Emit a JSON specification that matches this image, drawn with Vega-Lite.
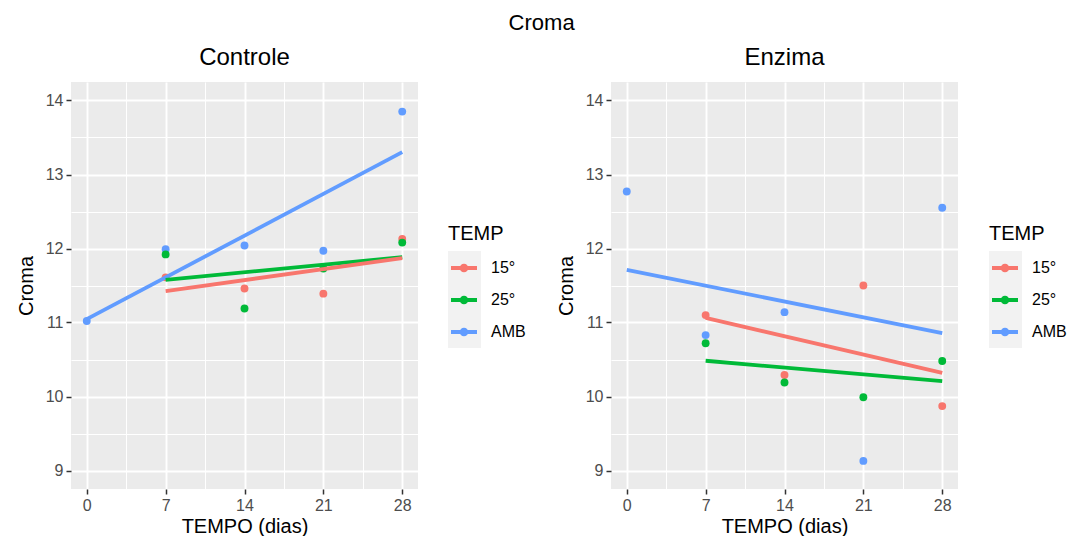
{
  "$schema": "https://vega.github.io/schema/vega-lite/v6.json",
  "background": "white",
  "padding": {"left": 16, "top": 12, "right": 0, "bottom": 0},
  "title": {"text": "Croma", "fontSize": 22, "font": "Liberation Sans", "fontWeight": "normal", "color": "black", "anchor": "middle", "offset": 11},
  "datasets": {
    "d": [
      {"panel": "Controle", "TEMPO": 0, "TEMP": "AMB", "CROMA": 11.02},
      {"panel": "Controle", "TEMPO": 7, "TEMP": "AMB", "CROMA": 11.99},
      {"panel": "Controle", "TEMPO": 7, "TEMP": "25°", "CROMA": 11.92},
      {"panel": "Controle", "TEMPO": 7, "TEMP": "15°", "CROMA": 11.61},
      {"panel": "Controle", "TEMPO": 14, "TEMP": "AMB", "CROMA": 12.04},
      {"panel": "Controle", "TEMPO": 14, "TEMP": "15°", "CROMA": 11.46},
      {"panel": "Controle", "TEMPO": 14, "TEMP": "25°", "CROMA": 11.19},
      {"panel": "Controle", "TEMPO": 21, "TEMP": "AMB", "CROMA": 11.97},
      {"panel": "Controle", "TEMPO": 21, "TEMP": "15°", "CROMA": 11.39},
      {"panel": "Controle", "TEMPO": 21, "TEMP": "25°", "CROMA": 11.73},
      {"panel": "Controle", "TEMPO": 28, "TEMP": "AMB", "CROMA": 13.85},
      {"panel": "Controle", "TEMPO": 28, "TEMP": "15°", "CROMA": 12.13},
      {"panel": "Controle", "TEMPO": 28, "TEMP": "25°", "CROMA": 12.08},
      {"panel": "Enzima", "TEMPO": 0, "TEMP": "AMB", "CROMA": 12.77},
      {"panel": "Enzima", "TEMPO": 7, "TEMP": "AMB", "CROMA": 10.83},
      {"panel": "Enzima", "TEMPO": 7, "TEMP": "15°", "CROMA": 11.10},
      {"panel": "Enzima", "TEMPO": 7, "TEMP": "25°", "CROMA": 10.72},
      {"panel": "Enzima", "TEMPO": 14, "TEMP": "AMB", "CROMA": 11.14},
      {"panel": "Enzima", "TEMPO": 14, "TEMP": "15°", "CROMA": 10.29},
      {"panel": "Enzima", "TEMPO": 14, "TEMP": "25°", "CROMA": 10.19},
      {"panel": "Enzima", "TEMPO": 21, "TEMP": "15°", "CROMA": 11.50},
      {"panel": "Enzima", "TEMPO": 21, "TEMP": "25°", "CROMA": 9.99},
      {"panel": "Enzima", "TEMPO": 21, "TEMP": "AMB", "CROMA": 9.13},
      {"panel": "Enzima", "TEMPO": 28, "TEMP": "AMB", "CROMA": 12.55},
      {"panel": "Enzima", "TEMPO": 28, "TEMP": "25°", "CROMA": 10.48},
      {"panel": "Enzima", "TEMPO": 28, "TEMP": "15°", "CROMA": 9.87}
    ]
  },
  "data": {"name": "d"},
  "config": {
    "font": "Liberation Sans",
    "view": {"fill": "#EBEBEB", "stroke": null},
    "title": {"font": "Liberation Sans", "fontWeight": "normal", "color": "black"},
    "axis": {"domain": false, "tickColor": "#333333", "tickWidth": 1.5, "tickSize": 5, "labelFont": "Liberation Sans", "labelFontSize": 16, "labelColor": "#4D4D4D", "titleFont": "Liberation Sans", "titleFontSize": 20, "titleFontWeight": "normal", "titleColor": "black", "gridColor": "white", "gridOpacity": 1},
    "legend": {"titleFont": "Liberation Sans", "labelFont": "Liberation Sans"}
  },
  "spacing": 30,
  "resolve": {"scale": {"color": "independent", "fill": "independent"}, "legend": {"color": "independent", "fill": "independent"}},
  "hconcat": [
    {
      "title": {"text": "Controle", "fontSize": 24, "baseline": "alphabetic", "offset": -7, "anchor": "middle"},
      "width": 347, "height": 407,
      "transform": [{"filter": "datum.panel == 'Controle'"}],
      "resolve": {"axis": {"x": "independent", "y": "independent"}},
      "layer": [
        {
          "mark": {"type": "point", "filled": true, "size": 62, "opacity": 1},
          "encoding": {
            "x": {"field": "TEMPO", "type": "quantitative", "scale": {"domain": [-1.4, 29.4], "nice": false, "zero": false},
                  "axis": {"values": [0, 7, 14, 21, 28], "title": "TEMPO (dias)", "grid": true, "gridWidth": 1.9, "labelPadding": 3, "titlePadding": 3}},
            "y": {"field": "CROMA", "type": "quantitative", "scale": {"domain": [8.75, 14.25], "nice": false, "zero": false},
                  "axis": {"values": [9, 10, 11, 12, 13, 14], "title": "Croma", "grid": true, "gridWidth": 1.9, "labelPadding": 3, "titlePadding": 9}},
            "color": {"field": "TEMP", "type": "nominal",
                      "scale": {"domain": ["15°", "25°", "AMB"], "range": ["#F8766D", "#00BA38", "#619CFF"]},
                      "legend": {"orient": "none", "legendX": 377, "legendY": 142, "zindex": 2, "title": "TEMP", "titleFontSize": 20, "titleFontWeight": "normal", "titleColor": "black", "titlePadding": 8, "labelFontSize": 16, "labelColor": "black", "labelOffset": 11, "rowPadding": 8, "symbolSize": 1024, "symbolStrokeWidth": 0, "symbolOpacity": 1,
                                 "symbolType": "M-0.8125,-0.125H0.8125V0.125H-0.8125Z M-0.27,0A0.27,0.27 0 1,1 0.27,0A0.27,0.27 0 1,1 -0.27,0Z"}}
          }
        },
        {
          "transform": [{"regression": "CROMA", "on": "TEMPO", "groupby": ["TEMP"]}],
          "mark": {"type": "line", "strokeWidth": 3.8},
          "encoding": {
            "x": {"field": "TEMPO", "type": "quantitative",
                  "axis": {"orient": "top", "values": [3.5, 10.5, 17.5, 24.5], "grid": true, "gridWidth": 1, "labels": false, "ticks": false, "title": null, "minExtent": 0, "maxExtent": 0, "offset": 0}},
            "y": {"field": "CROMA", "type": "quantitative",
                  "axis": {"orient": "right", "values": [9.5, 10.5, 11.5, 12.5, 13.5], "grid": true, "gridWidth": 1, "labels": false, "ticks": false, "title": null, "minExtent": 0, "maxExtent": 0, "offset": 0}},
            "color": {"field": "TEMP", "type": "nominal", "legend": null}
          }
        },
        {
          "mark": {"type": "point", "opacity": 0},
          "encoding": {
            "x": {"field": "TEMPO", "type": "quantitative", "axis": null},
            "y": {"field": "CROMA", "type": "quantitative", "axis": null},
            "fill": {"field": "CROMA", "type": "quantitative", "scale": {"range": ["#F2F2F2", "#F2F2F2"]},
                     "legend": {"type": "gradient", "orient": "none", "legendX": 377, "legendY": 169, "zindex": 1, "direction": "vertical", "gradientLength": 97, "gradientThickness": 33, "gradientStrokeWidth": 0, "labelExpr": "''", "labelFontSize": 1, "labelOffset": 0, "padding": 0, "title": null}}
          }
        }
      ]
    },
    {
      "title": {"text": "Enzima", "fontSize": 24, "baseline": "alphabetic", "offset": -7, "anchor": "middle"},
      "width": 347, "height": 407,
      "transform": [{"filter": "datum.panel == 'Enzima'"}],
      "resolve": {"axis": {"x": "independent", "y": "independent"}},
      "layer": [
        {
          "mark": {"type": "point", "filled": true, "size": 62, "opacity": 1},
          "encoding": {
            "x": {"field": "TEMPO", "type": "quantitative", "scale": {"domain": [-1.4, 29.4], "nice": false, "zero": false},
                  "axis": {"values": [0, 7, 14, 21, 28], "title": "TEMPO (dias)", "grid": true, "gridWidth": 1.9, "labelPadding": 3, "titlePadding": 3}},
            "y": {"field": "CROMA", "type": "quantitative", "scale": {"domain": [8.75, 14.25], "nice": false, "zero": false},
                  "axis": {"values": [9, 10, 11, 12, 13, 14], "title": "Croma", "grid": true, "gridWidth": 1.9, "labelPadding": 3, "titlePadding": 9}},
            "color": {"field": "TEMP", "type": "nominal",
                      "scale": {"domain": ["15°", "25°", "AMB"], "range": ["#F8766D", "#00BA38", "#619CFF"]},
                      "legend": {"orient": "none", "legendX": 378, "legendY": 142, "zindex": 2, "title": "TEMP", "titleFontSize": 20, "titleFontWeight": "normal", "titleColor": "black", "titlePadding": 8, "labelFontSize": 16, "labelColor": "black", "labelOffset": 11, "rowPadding": 8, "symbolSize": 1024, "symbolStrokeWidth": 0, "symbolOpacity": 1,
                                 "symbolType": "M-0.8125,-0.125H0.8125V0.125H-0.8125Z M-0.27,0A0.27,0.27 0 1,1 0.27,0A0.27,0.27 0 1,1 -0.27,0Z"}}
          }
        },
        {
          "transform": [{"regression": "CROMA", "on": "TEMPO", "groupby": ["TEMP"]}],
          "mark": {"type": "line", "strokeWidth": 3.8},
          "encoding": {
            "x": {"field": "TEMPO", "type": "quantitative",
                  "axis": {"orient": "top", "values": [3.5, 10.5, 17.5, 24.5], "grid": true, "gridWidth": 1, "labels": false, "ticks": false, "title": null, "minExtent": 0, "maxExtent": 0, "offset": 0}},
            "y": {"field": "CROMA", "type": "quantitative",
                  "axis": {"orient": "right", "values": [9.5, 10.5, 11.5, 12.5, 13.5], "grid": true, "gridWidth": 1, "labels": false, "ticks": false, "title": null, "minExtent": 0, "maxExtent": 0, "offset": 0}},
            "color": {"field": "TEMP", "type": "nominal", "legend": null}
          }
        },
        {
          "mark": {"type": "point", "opacity": 0},
          "encoding": {
            "x": {"field": "TEMPO", "type": "quantitative", "axis": null},
            "y": {"field": "CROMA", "type": "quantitative", "axis": null},
            "fill": {"field": "CROMA", "type": "quantitative", "scale": {"range": ["#F2F2F2", "#F2F2F2"]},
                     "legend": {"type": "gradient", "orient": "none", "legendX": 378, "legendY": 169, "zindex": 1, "direction": "vertical", "gradientLength": 97, "gradientThickness": 33, "gradientStrokeWidth": 0, "labelExpr": "''", "labelFontSize": 1, "labelOffset": 0, "padding": 0, "title": null}}
          }
        }
      ]
    }
  ]
}
